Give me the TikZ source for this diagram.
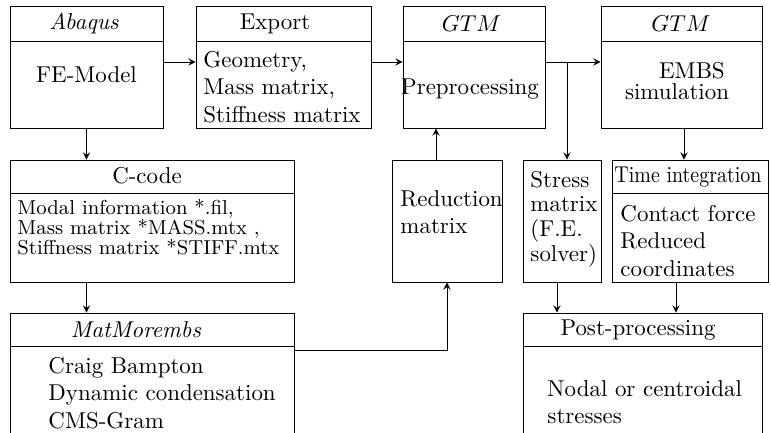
\documentclass[tikz,border=0pt]{standalone}
\usepackage{amsmath}
\usepackage{amssymb}
\usepackage{graphicx}
\usepackage{tikz}

\begin{document}
\begin{tikzpicture}[x=0.436pt,y=-0.436pt,>=stealth,
    blk/.style={draw,minimum height=52.8pt,inner sep=0pt},
    hd/.style={inner sep=0pt},
    txt/.style={align=left,inner sep=0pt,anchor=west}]
  \clip (0,0) rectangle (771,432);
  \coordinate (hl1) at (0,41);
  \coordinate (hl2) at (0,193);
  \coordinate (hl3) at (0,346);
  \coordinate (row) at (0,62);
  \coordinate (split) at (567,62);
  \coordinate (lnk) at (0,350);
  \coordinate (upx) at (436,0);
  \coordinate (simx) at (684,0);
  \coordinate (stx) at (557,0);
  \coordinate (tix) at (676,0);

  % top row
  \node[blk,minimum width=66.7pt] (abaqus) at (86.5,67.5) {};
  \node[blk,minimum width=76.3pt] (export) at (283.5,67.5) {};
  \node[blk,minimum width=62.3pt] (gtmpre) at (474.5,67.5) {};
  \node[blk,minimum width=70.2pt] (gtmsim) at (681.5,67.5) {};
  \foreach \b in {abaqus,export,gtmpre,gtmsim}
    \draw (\b.west |- hl1) -- (\b.east |- hl1);
  \node[hd] (abaqushd) at (84,24) {\textit{Abaqus}};
  \node[hd] (abaqusbd) at (86.5,75) {FE-Model};
  \node[hd] (exporthd) at (275,24) {Export};
  \node[txt] (exportbd) at (203,87) {Geometry,\\Mass matrix,\\Stiffness matrix};
  \node[hd] (gtmprehd) at (471.5,24) {$GTM$};
  \node[hd] (gtmprebd) at (470,89) {Preprocessing};
  \node[hd] (gtmsimhd) at (681,24) {$GTM$};
  \node[hd,align=center,font=\fontsize{10}{8.8}\selectfont] (gtmsimbd) at (677,81)
    {\hspace*{13pt}EMBS\\simulation};

  % middle row
  \node[blk,minimum width=123.8pt,minimum height=53.2pt] (ccode) at (152,221) {};
  \node[blk,minimum width=48pt,minimum height=53.2pt] (redmat) at (447,221) {};
  \node[blk,minimum width=34pt,minimum height=53.2pt] (stress) at (562,221) {};
  \node[blk,minimum width=68pt,minimum height=53.2pt] (timeint) at (690,221) {};
  \foreach \b in {ccode,timeint}
    \draw (\b.west |- hl2) -- (\b.east |- hl2);
  \node[hd] (ccodehd) at (147,176) {C-code};
  \node[txt,font=\fontsize{8.8}{8.6}\selectfont] (ccodebd) at (17,227)
    {Modal information *.fil,\\Mass matrix *MASS.mtx ,\\Stiffness matrix *STIFF.mtx};
  \node[txt] (redmatbd) at (400,212) {Reduction\\matrix};
  \node[txt,font=\fontsize{10}{10.8}\selectfont] (stressbd) at (530,219)
    {Stress\\matrix\\(F.E.\\solver)};
  \node[txt] (timeinthd) at (614,177) {\scalebox{0.87}[1]{Time integration}};
  \node[txt] (timeintbd) at (620,241) {Contact force\\Reduced\\coordinates};

  % bottom row
  \node[blk,minimum width=123.8pt,minimum height=64.1pt] (matmor) at (152,386.5) {};
  \node[blk,minimum width=104.2pt,minimum height=64.1pt] (post) at (642.5,386.5) {};
  \foreach \b in {matmor,post}
    \draw (\b.west |- hl3) -- (\b.east |- hl3);
  \node[hd] (matmorhd) at (136,330) {\textit{MatMorembs}};
  \node[txt] (matmorbd) at (48,393) {Craig Bampton\\Dynamic condensation\\CMS-Gram};
  \node[hd] (posthd) at (638,330) {Post-processing};
  \node[txt] (postbd) at (547,402) {Nodal or centroidal\\stresses};

  % connections
  \draw[->] (abaqus.east |- row) -- (export.west |- row);
  \draw[->] (export.east |- row) -- (gtmpre.west |- row);
  \draw[->] (gtmpre.east |- row) -- (gtmsim.west |- row);
  \draw[->] (split) -- (split |- stress.north);
  \draw[->] (abaqus.south) -- (ccode.north -| abaqus.south);
  \draw[->] (ccode.south -| abaqus.south) -- (matmor.north -| abaqus.south);
  \draw[->] (upx |- redmat.north) -- (upx |- gtmpre.south);
  \draw[->] (matmor.east |- lnk) -| (redmat.south);
  \draw[->] (gtmsim.south -| simx) -- (timeint.north -| simx);
  \draw[->] (stress.south -| stx) -- (post.north -| stx);
  \draw[->] (timeint.south -| tix) -- (post.north -| tix);
\end{tikzpicture}
\end{document}
